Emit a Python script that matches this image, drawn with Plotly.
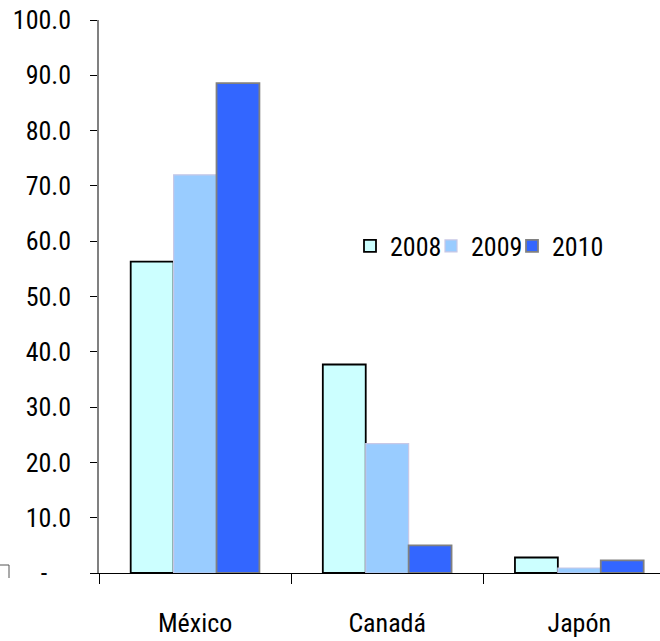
import plotly.graph_objects as go

# Data
countries = ["México", "Canadá", "Japón"]
years = ["2008", "2009", "2010"]
values_2008 = [56.3, 37.7, 2.8]
values_2009 = [72.0, 23.4, 0.9]
values_2010 = [88.6, 5.0, 2.3]
y_tick_vals = [0, 10, 20, 30, 40, 50, 60, 70, 80, 90, 100]
y_tick_text = ["-" + "\u00a0" * 4] + [f"{v:.1f}" for v in y_tick_vals[1:]]

series = [values_2008, values_2009, values_2010]
fills = ["#CCFFFF", "#99CCFF", "#3366FF"]
outlines = ["#000000", "#C8C8E6", "#808080"]
outline_w = [1.8, 1.2, 1.8]

FONT = "Roboto Condensed, Liberation Sans Narrow, sans-serif"
FONT_WEIGHT = 400

W, H = 660, 641
ML, MR, MT, MB = 99, 0, 20, 68

plot_w = W - ML - MR
plot_h = H - MT - MB
def px(x):
    return (x - ML) / plot_w
def py(y):
    return (H - MB - y) / plot_h

legend_ids = ["legend", "legend2", "legend3"]
legend_left = [350, 431, 512]   # one legend box per year, laid out in a row

fig = go.Figure()
for name, vals, fc, lc, lw, lg in zip(years, series, fills, outlines, outline_w, legend_ids):
    fig.add_trace(go.Bar(
        x=countries, y=vals, name=name, legend=lg,
        marker=dict(color=fc, line=dict(color=lc, width=lw)),
    ))

# small corner fragment at the lower-left edge of the frame
fig.add_shape(type="path",
              path=f"M {px(0)} {py(565)} L {px(9)} {py(565)} L {px(9)} {py(578)}",
              xref="paper", yref="paper", line=dict(color="#555555", width=1))

legend_style = dict(orientation="h", xanchor="left", yanchor="middle", y=py(246),
                    font=dict(size=26, weight=FONT_WEIGHT), itemwidth=30, bgcolor="rgba(0,0,0,0)")
legends = {lg: dict(legend_style, x=px(xl)) for lg, xl in zip(legend_ids, legend_left)}

fig.update_layout(
    width=W, height=H,
    margin=dict(l=ML, r=MR, t=MT, b=MB),
    paper_bgcolor="white", plot_bgcolor="white",
    barmode="group", bargap=0.33, bargroupgap=0,
    font=dict(family=FONT, size=26, color="black", weight=FONT_WEIGHT),
    showlegend=True,
    **legends,
    xaxis=dict(
        type="category", range=[-0.5, 2.42],
        showline=True, linecolor="#000000", linewidth=1,
        ticks="outside", tickson="boundaries", ticklen=10, tickcolor="#000000", tickwidth=1,
        showgrid=False, zeroline=False,
        tickfont=dict(size=26, weight=FONT_WEIGHT), ticklabelstandoff=27,
    ),
    yaxis=dict(
        range=[0, 100], tickvals=y_tick_vals, ticktext=y_tick_text,
        showline=True, linecolor="#808080", linewidth=1.5,
        ticks="outside", ticklen=7, tickcolor="#000000", tickwidth=1,
        showgrid=False, zeroline=False,
        tickfont=dict(size=26, weight=FONT_WEIGHT), ticklabelstandoff=14,
    ),
)

fig.write_html("out.html")
